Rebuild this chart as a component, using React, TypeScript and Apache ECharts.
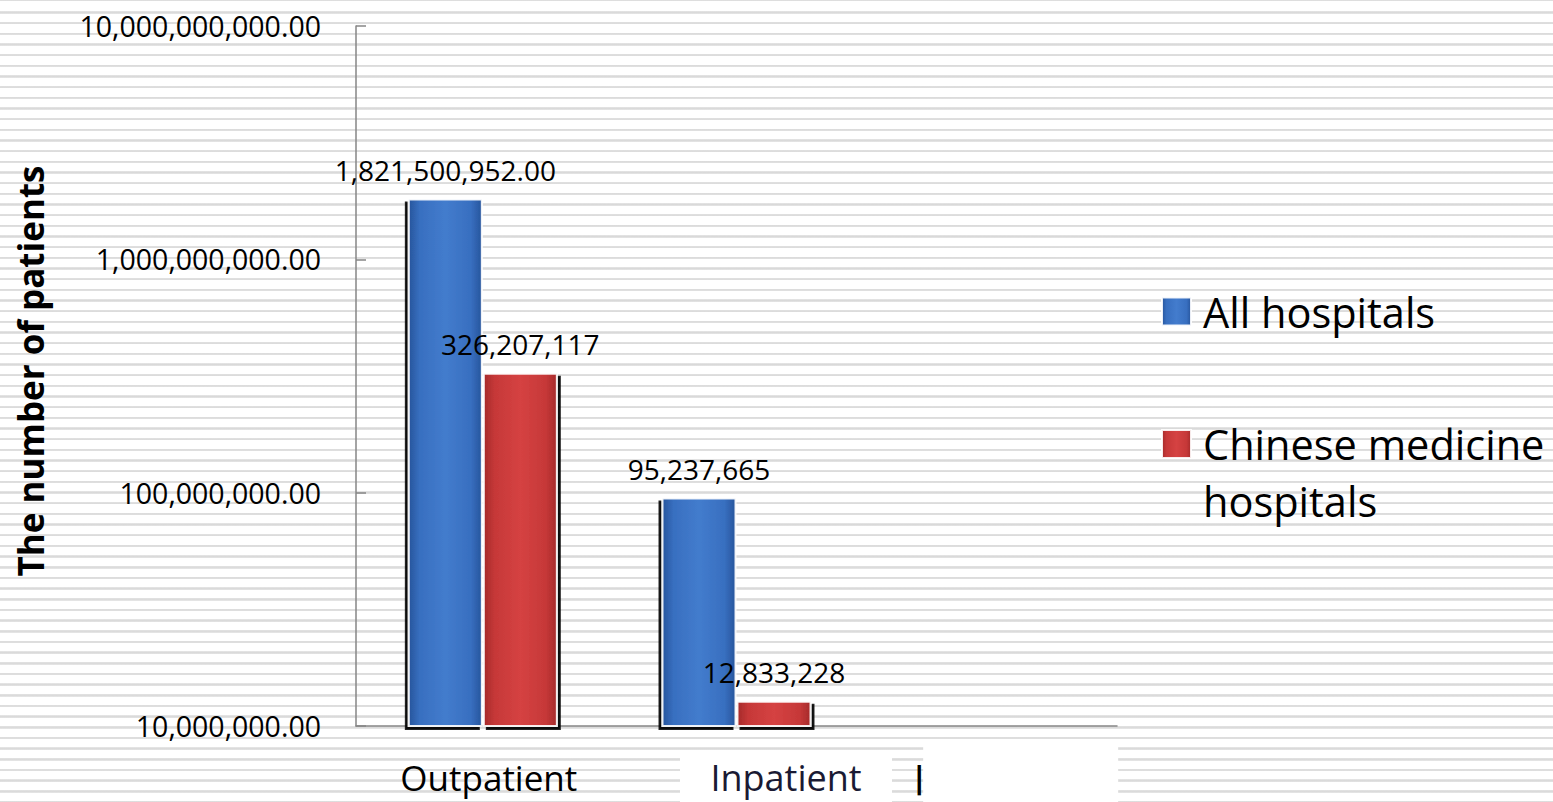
import React, { useEffect, useRef } from "react";
import * as echarts from "echarts";

const categories = ["Outpatient", "Inpatient", ""];
const allHospitals = [1821500952, 95237665, null];
const cmHospitals = [326207117, 12833228, null];
const allDecimals = [2, 0, 0];
const cmDecimals = [0, 0, 0];
const yMin = 10000000;
const yMax = 10000000000;
const seriesNames = ["All hospitals", "Chinese medicine hospitals"];
const legendLines = ["Chinese medicine", "hospitals"];
const yAxisTitle = "The number of patients";

const FONT = "'Open Sans', sans-serif";

function fmt(v: number, d: number) {
  return Number(v).toLocaleString("en-US", { minimumFractionDigits: d, maximumFractionDigits: d });
}

export default function App() {
  const ref = useRef<HTMLDivElement>(null);
  useEffect(() => {
    if (!ref.current) return;
    const chart = echarts.init(ref.current, null, { renderer: "svg" });
    const blue = new echarts.graphic.LinearGradient(0, 0, 1, 0, [
      { offset: 0, color: "#27559c" },
      { offset: 0.15, color: "#386fc0" },
      { offset: 0.5, color: "#437ccd" },
      { offset: 0.85, color: "#386fc0" },
      { offset: 1, color: "#27559c" },
    ]);
    const red = new echarts.graphic.LinearGradient(0, 0, 1, 0, [
      { offset: 0, color: "#a52a2a" },
      { offset: 0.15, color: "#c63838" },
      { offset: 0.5, color: "#d54242" },
      { offset: 0.85, color: "#c63838" },
      { offset: 1, color: "#a52a2a" },
    ]);
    const barStyle = (c: any, dx: number) => ({
      color: c,
      borderColor: "rgba(255,255,255,0.9)",
      borderWidth: 2,
      shadowColor: "rgba(0,0,0,0.95)",
      shadowBlur: 1,
      shadowOffsetX: dx,
      shadowOffsetY: 3,
    });
    const labelStyle = (decs: number[]) => ({
      show: true,
      position: "top",
      distance: 15,
      fontSize: 28,
      fontFamily: FONT,
      color: "#000",
      formatter: (p: any) => fmt(p.value, decs[p.dataIndex]),
    });
    const legendText = { fontSize: 41.5, fontFamily: FONT, color: "#000" };
    const option: any = {
      animation: false,
      textStyle: { fontFamily: FONT },
      grid: { left: 356, right: 436, top: 26, bottom: 76, containLabel: false, outerBoundsMode: "none" },
      legend: [
        {
          data: [seriesNames[0]],
          orient: "vertical",
          left: 1156,
          top: 278,
          itemWidth: 29,
          itemHeight: 28,
          icon: "rect",
          textStyle: { ...legendText, lineHeight: 57, padding: [0, 0, 0, 7] },
        },
        {
          data: [seriesNames[1]],
          orient: "vertical",
          left: 1156,
          top: 361,
          itemWidth: 29,
          itemHeight: 28,
          icon: "rect",
          formatter: () => "{sp| }\n{a|" + legendLines[0] + "}\n{a|" + legendLines[1] + "}",
          textStyle: {
            ...legendText,
            padding: [0, 0, 0, 7],
            rich: {
              sp: { ...legendText, lineHeight: 57 },
              a: { ...legendText, lineHeight: 57 },
            },
          },
        },
      ],
      xAxis: {
        type: "category",
        data: categories,
        axisLine: { lineStyle: { color: "#868686", width: 1.5 } },
        axisTick: { inside: true, length: 10, lineStyle: { color: "#868686", width: 1.5 } },
        axisLabel: {
          interval: 0,
          margin: 16,
          color: "#000",
          fontFamily: FONT,
          formatter: (v: string, i: number) => {
            if (i === 0) return "{sp0|}{out|" + v + "}";
            if (i === 1) return "{sp1|}{inp|" + v + "}";
            return "{sp2|}{bar||}{box|}";
          },
          rich: {
            sp0: { width: 12, height: 70 },
            out: { fontSize: 35, fontFamily: FONT, color: "#000", lineHeight: 70 },
            sp1: { width: 99, height: 70 },
            inp: {
              fontSize: 36,
              fontFamily: FONT,
              color: "#1a1a33",
              width: 212,
              height: 50,
              lineHeight: 50,
              align: "center",
              backgroundColor: "#fff",
            },
            sp2: { width: 53, height: 70 },
            bar: { fontSize: 30, fontWeight: "bold", fontFamily: "'DejaVu Sans', sans-serif", color: "#000", width: 8, align: "center", lineHeight: 70 },
            box: { width: 195, height: 70, backgroundColor: "#fff" },
          },
        },
      },
      yAxis: {
        type: "log",
        logBase: 10,
        min: yMin,
        max: yMax,
        name: yAxisTitle,
        nameLocation: "middle",
        nameRotate: 90,
        nameGap: 308,
        nameTextStyle: { fontSize: 35, fontWeight: "bold", fontFamily: FONT, color: "#000", padding: [0, 0, 0, 10] },
        axisLine: { show: true, lineStyle: { color: "#868686", width: 1.5 } },
        axisTick: { show: true, inside: true, length: 10, lineStyle: { color: "#868686", width: 1.5 } },
        minorTick: { show: false },
        splitLine: { show: false },
        axisLabel: {
          margin: 35,
          fontSize: 28.5,
          fontFamily: FONT,
          color: "#000",
          formatter: (v: number) => fmt(Math.round(v), 2),
        },
      },
      series: [
        {
          name: seriesNames[0],
          type: "bar",
          data: allHospitals.map((v) => (v == null ? "-" : v)),
          barWidth: 75,
          barGap: "0%",
          itemStyle: barStyle(blue, -3),
          label: labelStyle(allDecimals),
        },
        {
          name: seriesNames[1],
          type: "bar",
          data: cmHospitals.map((v) => (v == null ? "-" : v)),
          barWidth: 75,
          barGap: "0%",
          itemStyle: barStyle(red, 3),
          label: labelStyle(cmDecimals),
        },
      ],
    };
    chart.setOption(option);
    return () => chart.dispose();
  }, []);
  return (
    <div
      style={{
        position: "absolute",
        left: 0,
        top: 0,
        width: 1553,
        height: 802,
        overflow: "hidden",
        backgroundColor: "#fff",
        backgroundImage:
          "repeating-linear-gradient(to bottom, #ffffff 0px, #ffffff 8.2px, #e4e4e4 8.2px, #d9d9d9 9.4px, #e4e4e4 10.67px)",
        backgroundPosition: "0 3px",
      }}
    >
      <div ref={ref} style={{ width: 1553, height: 802 }} />
    </div>
  );
}
